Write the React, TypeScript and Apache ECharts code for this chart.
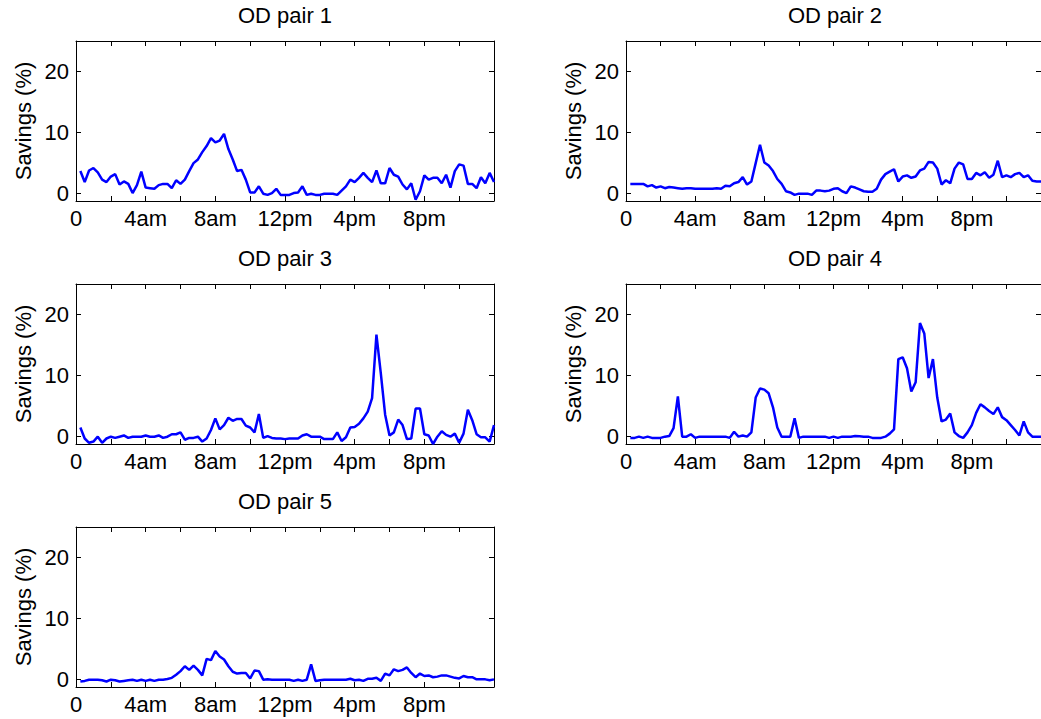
import React, { useEffect, useRef } from "react";
import * as echarts from "echarts";

// Time of day in hours for each 15-minute sample (0.25 ... 24)
const TIMES: number[] = Array.from({ length: 96 }, (_, i) => (i + 1) * 0.25);

const X_TICK_VALUES = [0, 4, 8, 12, 16, 20];
const X_TICK_LABELS = ["0", "4am", "8am", "12pm", "4pm", "8pm"];
const Y_TICK_VALUES = [0, 10, 20];

const TITLES = ["OD pair 1", "OD pair 2", "OD pair 3", "OD pair 4", "OD pair 5"];
const Y_NAME = "Savings (%)";

const OD1 = [
  3.7, 1.9, 3.8, 4.2, 3.5, 2.3, 1.9, 2.8, 3.2, 1.5,
  2.0, 1.6, 0.1, 1.4, 3.6, 1.0, 0.9, 0.8, 1.4, 1.6,
  1.6, 0.9, 2.2, 1.6, 2.3, 3.7, 5.0, 5.6, 6.8, 7.8,
  9.1, 8.4, 8.7, 9.8, 7.3, 5.6, 3.7, 3.9, 2.3, 0.2,
  0.2, 1.2, 0, -0.2, 0.1, 0.8, -0.2, -0.2, -0.2, 0.1,
  0.2, 1.2, -0.2, 0, -0.2, -0.2, 0, 0, 0, -0.2,
  0.5, 1.2, 2.3, 1.9, 2.6, 3.4, 2.6, 1.9, 3.8, 1.7,
  1.7, 4.2, 3.1, 2.8, 1.5, 0.7, 1.7, -1.0, 0.4, 3.0,
  2.3, 2.6, 2.6, 1.7, 3.1, 1.0, 3.7, 4.8, 4.6, 1.6,
  1.6, 0.9, 2.7, 1.7, 3.4, 1.9,
];

const OD2 = [
  1.6, 1.6, 1.6, 1.6, 1.2, 1.4, 1.0, 1.2, 0.9, 1.1,
  1.0, 0.9, 0.8, 0.9, 0.9, 0.8, 0.8, 0.8, 0.8, 0.8,
  0.9, 0.8, 1.3, 1.2, 1.7, 1.9, 2.7, 1.5, 2.0, 5.0,
  8.0, 5.1, 4.6, 3.7, 2.4, 1.6, 0.4, 0.2, -0.2, 0,
  0, 0, -0.2, 0.5, 0.5, 0.4, 0.5, 0.8, 0.9, 0.4,
  0.1, 1.2, 1.0, 0.7, 0.4, 0.3, 0.3, 0.8, 2.3, 3.2,
  3.6, 4.0, 2.0, 2.8, 3.0, 2.6, 2.8, 3.8, 4.1, 5.2,
  5.1, 4.1, 1.5, 2.2, 1.7, 4.1, 5.1, 4.8, 2.4, 2.4,
  3.4, 3.0, 3.5, 2.6, 3.1, 5.4, 2.7, 3.0, 2.7, 3.2,
  3.4, 2.7, 3.0, 2.1, 2.0, 2.0,
];

const OD3 = [
  1.5, -0.3, -1.0, -0.8, 0, -1.0, -0.3, 0, -0.2, 0,
  0.2, -0.2, 0, 0, 0, 0.2, 0, 0, 0.2, -0.2,
  0, 0.4, 0.4, 0.7, -0.5, -0.2, -0.2, 0, -0.8, -0.3,
  1.1, 3.0, 1.2, 1.9, 3.1, 2.6, 2.9, 2.9, 1.8, 1.5,
  0.7, 3.7, -0.2, 0.1, -0.2, -0.3, -0.3, -0.4, -0.3, -0.3,
  -0.3, 0.2, 0.4, 0, 0, 0, -0.4, -0.4, -0.4, 0.7,
  -0.7, -0.1, 1.5, 1.6, 2.1, 3.0, 4.1, 6.3, 16.7, 10.4,
  3.6, 0.2, 0.7, 2.8, 1.9, -0.4, -0.3, 4.6, 4.6, 0.4,
  0.2, -1.2, 0, 0.9, 0.3, 0, 0.5, -1.0, 0.5, 4.4,
  2.7, 0.4, -0.1, -0.1, -0.8, 1.9,
];

const OD4 = [
  -0.2, -0.2, 0, -0.2, 0, -0.2, -0.2, -0.2, 0, 0.1,
  1.4, 6.6, 0, 0, 0.4, -0.2, 0, 0, 0, 0,
  0, 0, 0, -0.2, 0.8, 0, 0.2, 0, 0.7, 6.4,
  7.9, 7.7, 7.1, 4.8, 1.5, 0, 0, 0, 3.0, -0.2,
  0, 0, 0, 0, 0, 0, -0.2, 0, -0.2, 0,
  0, 0, 0.1, 0.05, 0, 0, -0.2, -0.2, -0.2, 0,
  0.5, 1.2, 12.7, 13.0, 11.2, 7.4, 8.9, 18.6, 16.9, 9.6,
  12.7, 6.4, 2.5, 2.8, 3.8, 0.7, 0.1, -0.2, 0.7, 1.9,
  3.9, 5.3, 4.8, 4.2, 3.7, 4.8, 3.2, 2.7, 1.9, 1.1,
  0.2, 2.5, 0.7, 0, 0, 0,
];

const OD5 = [
  -0.3, -0.2, 0, 0, 0, -0.1, -0.3, 0, -0.1, -0.3,
  -0.2, -0.1, 0, -0.2, 0, -0.2, 0, -0.2, 0, 0,
  0.1, 0.3, 0.8, 1.4, 2.2, 1.6, 2.3, 1.6, 0.7, 3.4,
  3.2, 4.7, 3.8, 3.3, 2.2, 1.3, 1.0, 1.1, 1.1, 0.2,
  1.5, 1.4, 0, 0.05, 0, 0, 0, 0, 0, -0.2,
  0, -0.2, 0, 2.5, -0.2, -0.1, 0, 0, 0, 0,
  0, 0, 0.15, -0.1, 0, -0.2, 0.15, 0.15, 0.3, -0.2,
  1.0, 0.7, 1.7, 1.4, 1.6, 2.0, 1.1, 0.4, 1.0, 0.6,
  0.7, 0.4, 0.5, 0.7, 0.7, 0.5, 0.3, 0.2, 0.6, 0.4,
  0.4, 0.05, 0.05, 0.05, -0.1, 0.05,
];

const SERIES = [OD1, OD2, OD3, OD4, OD5];

const FONT = "'Liberation Sans', Arial, Helvetica, sans-serif";
const FONT_SIZE = 22;
const COL_LEFT = [76, 626];
const ROW_TOP = [41, 284, 527];
const GW = 418;
const GH = 160;

export default function App() {
  const ref = useRef<HTMLDivElement>(null);

  useEffect(() => {
    if (!ref.current) return;
    const chart = echarts.init(ref.current, undefined, { renderer: "svg" });

    const grids: any[] = [];
    const xAxes: any[] = [];
    const yAxes: any[] = [];
    const series: any[] = [];
    const titles: any[] = [];

    const axisLine = { show: true, onZero: false, lineStyle: { color: "#000", width: 1 } };

    SERIES.forEach((vals, g) => {
      const col = g % 2;
      const row = Math.floor(g / 2);
      const left = COL_LEFT[col];
      const top = ROW_TOP[row];
      grids.push({ left, top, width: GW, height: GH, containLabel: false });

      titles.push({
        text: TITLES[g],
        left: left + GW / 2,
        top: top - 37,
        textAlign: "center",
        padding: 0,
        textStyle: { fontFamily: FONT, fontSize: FONT_SIZE, fontWeight: "normal", color: "#000" },
      });

      const xBase = {
        type: "value",
        gridIndex: g,
        min: 0,
        max: 24,
        interval: 2,
        axisLine,
        splitLine: { show: false },
        axisTick: { show: true, inside: true, length: 5, lineStyle: { color: "#000" } },
      };
      xAxes.push({
        ...xBase,
        position: "bottom",
        axisLabel: {
          show: true,
          margin: 6,
          fontFamily: FONT,
          fontSize: FONT_SIZE,
          color: "#000",
          showMaxLabel: false,
          formatter: (v: number) => {
            const k = X_TICK_VALUES.indexOf(v);
            return k >= 0 ? X_TICK_LABELS[k] : "";
          },
        },
      });
      xAxes.push({ ...xBase, position: "top", axisLabel: { show: false } });

      const yBase = {
        type: "value",
        gridIndex: g,
        min: -1.2,
        max: 25,
        axisLine,
        splitLine: { show: false },
        axisTick: {
          show: true,
          inside: true,
          length: 5,
          customValues: Y_TICK_VALUES,
          lineStyle: { color: "#000" },
        },
      };
      yAxes.push({
        ...yBase,
        position: "left",
        name: Y_NAME,
        nameLocation: "middle",
        nameRotate: 90,
        nameGap: 42,
        nameTextStyle: { fontFamily: FONT, fontSize: FONT_SIZE, color: "#000" },
        axisLabel: {
          show: true,
          margin: 7,
          customValues: Y_TICK_VALUES,
          fontFamily: FONT,
          fontSize: FONT_SIZE,
          color: "#000",
        },
      });
      yAxes.push({ ...yBase, position: "right", axisLabel: { show: false } });

      series.push({
        type: "line",
        xAxisIndex: 2 * g,
        yAxisIndex: 2 * g,
        data: TIMES.map((t, i) => [t, vals[i]]),
        showSymbol: false,
        symbol: "none",
        clip: true,
        lineStyle: { color: "#0000ff", width: 2.5 },
        itemStyle: { color: "#0000ff" },
      });
    });

    chart.setOption({
      animation: false,
      backgroundColor: "#fff",
      title: titles,
      grid: grids,
      xAxis: xAxes,
      yAxis: yAxes,
      series,
    });

    return () => chart.dispose();
  }, []);

  return (
    <div
      ref={ref}
      style={{ position: "fixed", left: 0, top: 0, width: 1041, height: 719, background: "#fff" }}
    />
  );
}
